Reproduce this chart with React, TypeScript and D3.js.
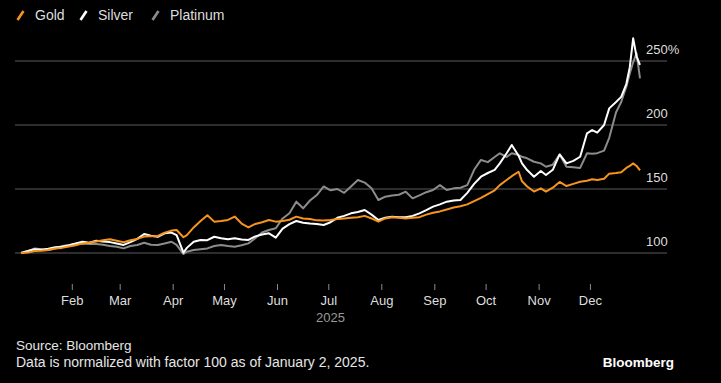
import React from "react";
import * as d3 from "d3";

const dates: string[] = [
  "2025-01-02","2025-01-06","2025-01-10","2025-01-14","2025-01-18","2025-01-22","2025-01-26","2025-01-30",
  "2025-02-03","2025-02-07","2025-02-11","2025-02-15","2025-02-19","2025-02-23","2025-02-27",
  "2025-03-03","2025-03-07","2025-03-11","2025-03-15","2025-03-19","2025-03-23","2025-03-27","2025-03-31",
  "2025-04-03","2025-04-07","2025-04-09","2025-04-13","2025-04-17","2025-04-21","2025-04-25","2025-04-29",
  "2025-05-03","2025-05-07","2025-05-11","2025-05-15","2025-05-19","2025-05-23","2025-05-27","2025-05-31",
  "2025-06-04","2025-06-08","2025-06-12","2025-06-16","2025-06-20","2025-06-24","2025-06-28",
  "2025-07-02","2025-07-06","2025-07-10","2025-07-14","2025-07-18","2025-07-22","2025-07-26","2025-07-30",
  "2025-08-03","2025-08-07","2025-08-11","2025-08-15","2025-08-19","2025-08-23","2025-08-27","2025-08-31",
  "2025-09-04","2025-09-08","2025-09-12","2025-09-16","2025-09-20","2025-09-24","2025-09-28",
  "2025-10-02","2025-10-06","2025-10-09","2025-10-13","2025-10-16","2025-10-20","2025-10-22","2025-10-25","2025-10-29",
  "2025-11-02","2025-11-05","2025-11-09","2025-11-13","2025-11-17","2025-11-21","2025-11-25","2025-11-29",
  "2025-12-02","2025-12-05","2025-12-09","2025-12-12","2025-12-16","2025-12-19","2025-12-22","2025-12-24",
  "2025-12-26","2025-12-28","2025-12-30",
];

const gold: number[] = [
  100,100.3,101.5,101.8,102.3,103.5,104,105,
  106,107.5,108,109,110,110.7,109.5,
  108.4,110,111,112.8,113,113.3,115.9,117.5,
  118,112.3,114,120,125,129.5,124.5,125,
  125.8,128.5,123,120,122.7,124,125.8,124.5,
  125,126,128.4,127,126.6,125.5,125.3,
  125.8,126.5,127,127.5,128,129,127,124.5,
  127,127.9,127.5,127,127.5,128,130,131.5,
  132.5,134,135.5,136.5,138,140.5,143,
  146,149,153,157,160,163.5,156,152,148,
  150.5,148,151,155.5,152.3,154,155.7,156.5,
  157.6,157,158,162,162.5,163,166.5,168,
  170,168,164.5,
];

const silver: number[] = [
  100,101.5,102.9,102.5,103.4,104.5,104.9,106,
  107.5,108.8,108,109.6,109,108.5,107.5,
  106.3,108.5,111,114.8,113.5,112.7,115.4,116,
  114,100.3,104,108.8,110.2,110,112.7,111.5,
  110.7,111.5,110.5,110.2,113,114.5,115.4,112,
  119,122.5,125,123.7,123,122.7,121.9,
  124,127.5,129,131,132,133.6,130,125.8,
  127.5,128.4,128,127.9,129,131,133.5,136.2,
  138,140.1,141,141.4,147,154,159.6,
  162.5,165,170,177.9,184.4,176,170,164.8,159.6,
  164,160.9,165,177,170,172,175.2,193.5,
  196,194,200,213,218,222,232,245,
  267.7,253.4,246.9,
];

const platinum: number[] = [
  100,101.5,103.6,103,102.3,103.5,105.5,106,
  107,107.5,107,107,106.5,105.5,104.9,
  103.6,105.5,106.3,108,106.5,106.3,107.5,108.8,
  106.3,99.2,101,102.3,103,103.6,105.5,106.3,
  105.5,104.9,106,107.5,111.5,116,118,119.3,
  127,131,140.1,134.9,141,145.3,152,
  149,150,147,152,157,155,150.5,141.4,
  144,145,145.5,147.9,142.7,145,147.5,149.2,
  153,149.2,150.5,151,153,165,172.7,
  171,175,177.9,175,177.9,176.5,175.2,174,171.3,
  170,167.4,169,177,167.4,167,166.5,177.9,
  177.5,178,180,190,210,218,229.9,240,
  249,256,236.5,
];

const seriesNames: string[] = ["Gold", "Silver", "Platinum"];
const seriesColors: string[] = ["#f7941d", "#ffffff", "#8c8c8c"];
const yTicks: number[] = [100, 150, 200, 250];
const footnoteSource = "Source: Bloomberg";
const footnoteNote = "Data is normalized with factor 100 as of January 2, 2025.";
const yearLabel = "2025";
const brand = "Bloomberg";

const W = 721;
const H = 383;
const FONT = "'Liberation Sans', Arial, sans-serif";

export default function App() {
  const parse = d3.timeParse("%Y-%m-%d");
  const parsed = dates.map((d) => parse(d) as Date);

  const x = d3
    .scaleTime()
    .domain([parsed[0], parsed[parsed.length - 1]])
    .range([21, 640]);
  const y = d3.scaleLinear().domain([100, 250]).range([253, 61]);

  const line = d3
    .line<[Date, number]>()
    .x((d) => x(d[0]))
    .y((d) => y(d[1]))
    .curve(d3.curveLinear);

  const all = [gold, silver, platinum];
  const paths = all.map((vals) =>
    line(parsed.map((d, i) => [d, vals[i]] as [Date, number])) as string
  );

  const months = d3.timeMonth.range(new Date(2025, 1, 1), new Date(2025, 11, 2));
  const fmt = d3.timeFormat("%b");

  const legendX = [17, 80, 152];
  const drawOrder = [2, 1, 0];

  return (
    <svg
      width={W}
      height={H}
      style={{ position: "absolute", left: 0, top: 0, background: "#000", display: "block" }}
    >
      <rect x={0} y={0} width={W} height={H} fill="#000" />
      {/* legend */}
      {seriesNames.map((n, i) => (
        <g key={n} transform={`translate(${legendX[i]},0)`}>
          <line x1={0.5} y1={20} x2={6.5} y2={11} stroke={seriesColors[i]} strokeWidth={2.6} />
          <text x={18} y={20} fill="#dedede" fontFamily={FONT} fontSize={14}>
            {n}
          </text>
        </g>
      ))}
      {/* gridlines */}
      {yTicks.map((t) => (
        <g key={t}>
          <line x1={15} x2={667} y1={y(t)} y2={y(t)} stroke="#3d3d3d" strokeWidth={1.6} />
          <text x={646} y={y(t) - 7} fill="#dedede" fontFamily={FONT} fontSize={13}>
            {t === 250 ? `${t}%` : t}
          </text>
        </g>
      ))}
      {/* series */}
      {drawOrder.map((i) => (
        <path
          key={seriesNames[i]}
          d={paths[i]}
          fill="none"
          stroke={seriesColors[i]}
          strokeWidth={2}
          strokeLinejoin="round"
        />
      ))}
      {/* x axis */}
      {months.map((m) => (
        <g key={m.toISOString()} transform={`translate(${x(m)},0)`}>
          <line x1={0} x2={0} y1={284} y2={290} stroke="#8a8a8a" strokeWidth={1} />
          <text y={305} textAnchor="middle" fill="#dedede" fontFamily={FONT} fontSize={13}>
            {fmt(m)}
          </text>
        </g>
      ))}
      <text x={(x.range()[0] + x.range()[1]) / 2} y={322} textAnchor="middle" fill="#9a9a9a" fontFamily={FONT} fontSize={13}>
        {yearLabel}
      </text>
      {/* footer */}
      <text x={16} y={350} fill="#e6e6e6" fontFamily={FONT} fontSize={13.5}>
        {footnoteSource}
      </text>
      <text x={16} y={367} fill="#e6e6e6" fontFamily={FONT} fontSize={14}>
        {footnoteNote}
      </text>
      <text x={674} y={367} textAnchor="end" fill="#ffffff" fontFamily={FONT} fontSize={13.5} fontWeight="bold">
        {brand}
      </text>
    </svg>
  );
}
